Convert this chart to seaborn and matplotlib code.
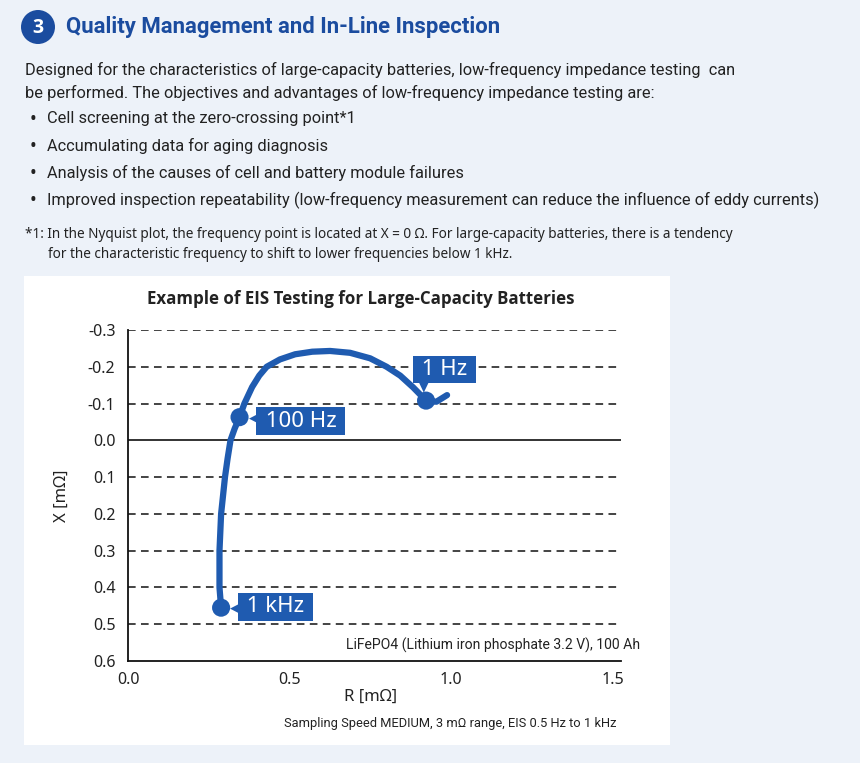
import matplotlib
matplotlib.use("Agg")
import matplotlib.pyplot as plt
from matplotlib.patches import Rectangle, Ellipse
import seaborn as sns
import pandas as pd

# Data (R, X in mOhm), from 1 kHz down to 0.5 Hz
r_vals = [0.288, 0.283, 0.283, 0.288, 0.300, 0.308, 0.317, 0.330, 0.345, 0.360, 0.384,
          0.406, 0.429, 0.470, 0.517, 0.570, 0.625, 0.687, 0.749, 0.800, 0.842, 0.882,
          0.922, 0.954, 0.987]
x_vals = [0.455, 0.40, 0.30, 0.20, 0.10, 0.05, 0.0, -0.032, -0.063, -0.10, -0.145,
          -0.176, -0.20, -0.22, -0.234, -0.241, -0.243, -0.238, -0.223, -0.20, -0.176, -0.144,
          -0.108, -0.105, -0.123]
freq_labels = ['1 kHz', '100 Hz', '1 Hz']
freq_r = [0.288, 0.345, 0.922]
freq_x = [0.455, -0.063, -0.108]
y_ticks = [-0.3, -0.2, -0.1, 0.0, 0.1, 0.2, 0.3, 0.4, 0.5, 0.6]
x_ticks = [0.0, 0.5, 1.0, 1.5]

bullets = [
    'Cell screening at the zero-crossing point*1',
    'Accumulating data for aging diagnosis',
    'Analysis of the causes of cell and battery module failures',
    'Improved inspection repeatability (low-frequency measurement can reduce the influence of eddy currents)',
]

BLUE = '#1f5bb0'
NAVY = '#1b4c9f'
BG = '#edf2f9'
INK = '#222222'
W, H = 860, 763

sns.set_theme(style='white')
plt.rcParams['font.family'] = ['Noto Sans', 'DejaVu Sans']
NARROW = ['Roboto', 'DejaVu Sans']


def fx(px):
    return px / W


def fy(py):
    return 1 - py / H


fig = plt.figure(figsize=(8.6, 7.63), dpi=100, facecolor=BG)

# white chart panel
fig.patches.append(Rectangle((fx(24), fy(745)), fx(646), 469 / H, transform=fig.transFigure,
                             facecolor='white', edgecolor='none', zorder=-5))

# header
fig.patches.append(Ellipse((fx(38), fy(27)), 34 / W, 34 / H, transform=fig.transFigure,
                           facecolor=NAVY, edgecolor='none', zorder=1))
fig.text(fx(38), fy(28), '3', color='white', fontsize=14, fontweight='bold',
         ha='center', va='center', family=['Open Sans', 'DejaVu Sans'])
fig.text(fx(66), fy(27), 'Quality Management and In-Line Inspection', color=NAVY,
         fontsize=15.9, fontweight='bold', ha='left', va='center', family=NARROW)

# body text
BODY = 11.8
fig.text(fx(25), fy(70), 'Designed for the characteristics of large-capacity batteries, '
         'low-frequency impedance testing  can', fontsize=BODY, color=INK,
         ha='left', va='center', family=NARROW)
fig.text(fx(25), fy(93), 'be performed. The objectives and advantages of low-frequency '
         'impedance testing are:', fontsize=BODY, color=INK,
         ha='left', va='center', family=NARROW)
for i, b in enumerate(bullets):
    y = 119 + i * 27
    fig.text(fx(33), fy(y), '\u2022', fontsize=13, color=INK, ha='center', va='center')
    fig.text(fx(47), fy(y), b, fontsize=BODY, color=INK, ha='left', va='center',
             family=NARROW)
fig.text(fx(25), fy(234), '*1: In the Nyquist plot, the frequency point is located at X = 0 \u03a9. '
         'For large-capacity batteries, there is a tendency', fontsize=9.75, color=INK,
         ha='left', va='center')
fig.text(fx(48), fy(254), 'for the characteristic frequency to shift to lower frequencies below 1 kHz.',
         fontsize=9.75, color=INK, ha='left', va='center')

# chart
ax = fig.add_axes([fx(128), fy(661), 493 / W, 331 / H], zorder=2)
ax.set_facecolor('white')
curve = pd.DataFrame({'R': r_vals, 'X': x_vals})
sns.lineplot(data=curve, x='R', y='X', sort=False, estimator=None, color=BLUE,
             linewidth=4.5, solid_capstyle='round', solid_joinstyle='round', ax=ax, zorder=4)
sns.scatterplot(x=freq_r, y=freq_x, color=BLUE, s=170, edgecolor='none', ax=ax, zorder=5)

ax.set_xlim(0, 1.525)
ax.set_ylim(0.6, -0.3)
ax.set_xticks(x_ticks)
ax.set_xticklabels([f'{v:.1f}' for v in x_ticks])
ax.set_yticks(y_ticks)
ax.set_yticklabels([f'{v:.1f}' for v in y_ticks])
ax.tick_params(axis='both', length=0, labelsize=11.5, colors=INK)
ax.tick_params(axis='y', pad=9)
ax.tick_params(axis='x', pad=8)
for v in y_ticks:
    if v == 0.0:
        ax.axhline(v, color='#111111', linewidth=1.2, zorder=2)
    elif v != 0.6:
        ax.axhline(v, color='#111111', linewidth=1.1, linestyle=(0, (5, 3.5)), zorder=2)
for side in ['top', 'right']:
    ax.spines[side].set_visible(False)
for side in ['left', 'bottom']:
    ax.spines[side].set_color('#111111')
    ax.spines[side].set_linewidth(1.3)

ax.set_xlabel('R [m\u03a9]', fontsize=12, color=INK)
ax.xaxis.set_label_coords(0.491, -0.085)
ax.set_ylabel('X [m\u03a9]', fontsize=12, color=INK)
ax.yaxis.set_label_coords(-0.118, 0.5)
ax.set_title('Example of EIS Testing for Large-Capacity Batteries', fontsize=12.2,
             fontweight='bold', color=INK, pad=19, x=0.473,
             family=['Open Sans', 'DejaVu Sans'])

# frequency labels (offsets in pixels from the marker)
offsets = [(20, 1, '\u25c0', (14, 0)), (20, -4, '\u25c0', (14, -1)), (-10, 31, '\u25bc', (-2, 14))]
for lab, r, x, (dx, dy, arrow, (adx, ady)) in zip(freq_labels, freq_r, freq_x, offsets):
    ax.annotate(' ' + lab + ' ', xy=(r, x), xytext=(dx, dy), textcoords='offset pixels',
                ha='left', va='center', fontsize=16, color='white', zorder=6,
                bbox=dict(boxstyle='square,pad=0.15', facecolor=BLUE, edgecolor='none'))
    ax.annotate(arrow, xy=(r, x), xytext=(adx, ady), textcoords='offset pixels',
                ha='center', va='center', fontsize=9, color=BLUE, zorder=6,
                family='DejaVu Sans')

fig.text(fx(640), fy(645), 'LiFePO4 (Lithium iron phosphate 3.2 V), 100 Ah', fontsize=10.1,
         color=INK, ha='right', va='center', family=NARROW)
fig.text(fx(616), fy(724), 'Sampling Speed MEDIUM, 3 m\u03a9 range, EIS 0.5 Hz to 1 kHz',
         fontsize=9.3, color=INK, ha='right', va='center', family=NARROW)

fig.savefig('out.png', dpi=100, facecolor=BG)
